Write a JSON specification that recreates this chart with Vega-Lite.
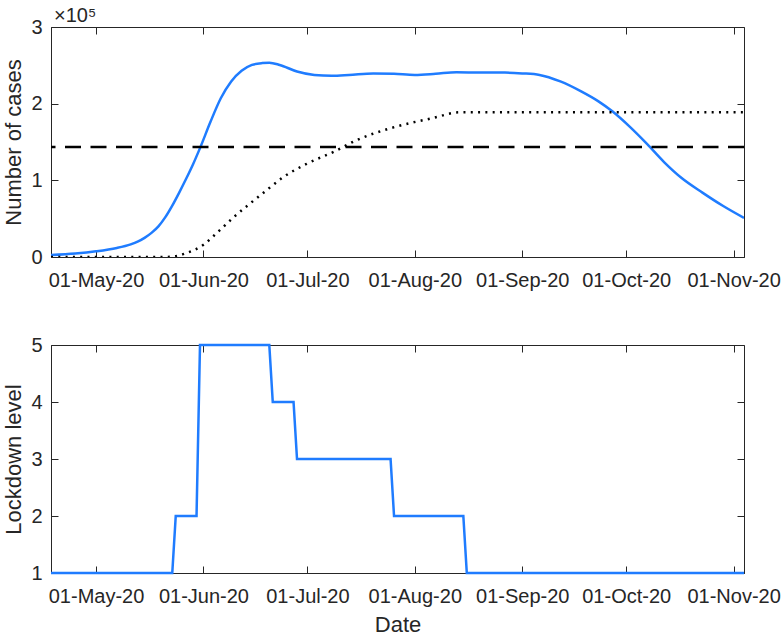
{
  "$schema": "https://vega.github.io/schema/vega-lite/v6.json",
  "background": "white",
  "padding": {"left": 2, "top": 5, "right": 2, "bottom": 0},
  "spacing": 43,
  "config": {
    "font": "Liberation Sans",
    "view": {"stroke": "#262626", "strokeWidth": 1},
    "axis": {
      "grid": false,
      "domainColor": "#262626",
      "tickColor": "#262626",
      "labelColor": "#262626",
      "titleColor": "#262626",
      "labelFont": "Liberation Sans",
      "titleFont": "Liberation Sans",
      "labelFontSize": 20,
      "titleFontSize": 22,
      "titleFontWeight": "normal",
      "tickSize": -7,
      "labelFlush": false,
      "labelOverlap": false
    }
  },
  "datasets": {
    "cases": [
      {"date": "2020-04-18", "value": 2500},
      {"date": "2020-04-25", "value": 4500},
      {"date": "2020-05-01", "value": 7400},
      {"date": "2020-05-07", "value": 11800},
      {"date": "2020-05-11", "value": 16500},
      {"date": "2020-05-13", "value": 20000},
      {"date": "2020-05-15", "value": 25000},
      {"date": "2020-05-17", "value": 31500},
      {"date": "2020-05-19", "value": 40000},
      {"date": "2020-05-21", "value": 52000},
      {"date": "2020-05-23", "value": 67000},
      {"date": "2020-05-25", "value": 84000},
      {"date": "2020-05-27", "value": 102000},
      {"date": "2020-05-29", "value": 121000},
      {"date": "2020-05-31", "value": 142000},
      {"date": "2020-06-03", "value": 176000},
      {"date": "2020-06-06", "value": 207000},
      {"date": "2020-06-09", "value": 229000},
      {"date": "2020-06-12", "value": 243000},
      {"date": "2020-06-15", "value": 250500},
      {"date": "2020-06-18", "value": 253000},
      {"date": "2020-06-20", "value": 253500},
      {"date": "2020-06-23", "value": 250500},
      {"date": "2020-06-28", "value": 242000},
      {"date": "2020-07-03", "value": 237500},
      {"date": "2020-07-08", "value": 236500},
      {"date": "2020-07-13", "value": 237500},
      {"date": "2020-07-20", "value": 239500},
      {"date": "2020-07-26", "value": 239000},
      {"date": "2020-08-01", "value": 237500},
      {"date": "2020-08-07", "value": 239000},
      {"date": "2020-08-13", "value": 241000},
      {"date": "2020-08-20", "value": 240500},
      {"date": "2020-08-27", "value": 240500},
      {"date": "2020-09-01", "value": 239500},
      {"date": "2020-09-06", "value": 237500},
      {"date": "2020-09-12", "value": 229000},
      {"date": "2020-09-18", "value": 216000},
      {"date": "2020-09-23", "value": 203000},
      {"date": "2020-09-27", "value": 190000},
      {"date": "2020-10-02", "value": 170000},
      {"date": "2020-10-07", "value": 147500},
      {"date": "2020-10-12", "value": 123500},
      {"date": "2020-10-17", "value": 103000},
      {"date": "2020-10-23", "value": 84000},
      {"date": "2020-10-29", "value": 66500},
      {"date": "2020-11-04", "value": 51000}
    ],
    "dotted": [
      {"date": "2020-04-18", "value": 0},
      {"date": "2020-05-21", "value": 0},
      {"date": "2020-05-24", "value": 1000},
      {"date": "2020-05-27", "value": 5000},
      {"date": "2020-06-01", "value": 16000},
      {"date": "2020-06-05", "value": 32000},
      {"date": "2020-06-10", "value": 53000},
      {"date": "2020-06-17", "value": 79000},
      {"date": "2020-06-20", "value": 90000},
      {"date": "2020-06-24", "value": 104000},
      {"date": "2020-07-01", "value": 122000},
      {"date": "2020-07-09", "value": 138000},
      {"date": "2020-07-15", "value": 152000},
      {"date": "2020-07-25", "value": 168000},
      {"date": "2020-08-06", "value": 181000},
      {"date": "2020-08-14", "value": 188700},
      {"date": "2020-11-04", "value": 188700}
    ],
    "threshold": [
      {"value": 143500}
    ],
    "lockdown": [
      {"date": "2020-04-18", "level": 1},
      {"date": "2020-05-23", "level": 1},
      {"date": "2020-05-24", "level": 2},
      {"date": "2020-05-30", "level": 2},
      {"date": "2020-05-31", "level": 5},
      {"date": "2020-06-20", "level": 5},
      {"date": "2020-06-21", "level": 4},
      {"date": "2020-06-27", "level": 4},
      {"date": "2020-06-28", "level": 3},
      {"date": "2020-07-25", "level": 3},
      {"date": "2020-07-26", "level": 2},
      {"date": "2020-08-15", "level": 2},
      {"date": "2020-08-16", "level": 1},
      {"date": "2020-11-04", "level": 1}
    ]
  },
  "vconcat": [
    {
      "width": 693,
      "height": 230,
      "title": {"text": "×10⁵", "anchor": "start", "frame": "group", "fontSize": 20, "fontWeight": "normal", "color": "#262626", "font": "Liberation Sans", "offset": -9, "dx": 3},
      "resolve": {"axis": {"x": "independent", "y": "independent"}},
      "layer": [
        {
          "data": {"name": "cases"},
          "mark": {"type": "line", "color": "#1f7cff", "strokeWidth": 2.5, "interpolate": "monotone", "clip": true},
          "encoding": {
            "x": {"field": "date", "type": "temporal",
              "scale": {"type": "utc", "domain": [{"year": 2020, "month": 4, "date": 18, "utc": true}, {"year": 2020, "month": 11, "date": 4, "utc": true}]},
              "axis": {"orient": "bottom", "title": null, "format": "%d-%b-%y", "labelPadding": 20,
                "values": [{"year": 2020, "month": 5, "date": 1, "utc": true}, {"year": 2020, "month": 6, "date": 1, "utc": true}, {"year": 2020, "month": 7, "date": 1, "utc": true}, {"year": 2020, "month": 8, "date": 1, "utc": true}, {"year": 2020, "month": 9, "date": 1, "utc": true}, {"year": 2020, "month": 10, "date": 1, "utc": true}, {"year": 2020, "month": 11, "date": 1, "utc": true}]}},
            "y": {"field": "value", "type": "quantitative",
              "scale": {"domain": [0, 300000], "nice": false, "zero": false},
              "axis": {"orient": "left", "title": "Number of cases", "values": [0, 100000, 200000, 300000], "labelExpr": "datum.value / 100000", "labelPadding": 16, "titlePadding": 5}}
          }
        },
        {
          "data": {"name": "dotted"},
          "mark": {"type": "line", "color": "black", "strokeWidth": 2.5, "strokeDash": [2, 5.3], "interpolate": "monotone", "clip": true},
          "encoding": {
            "x": {"field": "date", "type": "temporal",
              "scale": {"type": "utc", "domain": [{"year": 2020, "month": 4, "date": 18, "utc": true}, {"year": 2020, "month": 11, "date": 4, "utc": true}]},
              "axis": {"orient": "top", "title": null, "labels": false, "domain": false,
                "values": [{"year": 2020, "month": 5, "date": 1, "utc": true}, {"year": 2020, "month": 6, "date": 1, "utc": true}, {"year": 2020, "month": 7, "date": 1, "utc": true}, {"year": 2020, "month": 8, "date": 1, "utc": true}, {"year": 2020, "month": 9, "date": 1, "utc": true}, {"year": 2020, "month": 10, "date": 1, "utc": true}, {"year": 2020, "month": 11, "date": 1, "utc": true}]}},
            "y": {"field": "value", "type": "quantitative",
              "scale": {"domain": [0, 300000], "nice": false, "zero": false},
              "axis": {"orient": "right", "title": null, "labels": false, "domain": false, "values": [0, 100000, 200000, 300000]}}
          }
        },
        {
          "data": {"name": "threshold"},
          "mark": {"type": "rule", "color": "black", "strokeWidth": 2.5, "strokeDash": [16, 9.5]},
          "encoding": {
            "y": {"field": "value", "type": "quantitative", "axis": null}
          }
        }
      ]
    },
    {
      "width": 693,
      "height": 228,
      "resolve": {"axis": {"x": "independent", "y": "independent"}},
      "layer": [
        {
          "data": {"name": "lockdown"},
          "mark": {"type": "line", "color": "#1f7cff", "strokeWidth": 2.5},
          "encoding": {
            "x": {"field": "date", "type": "temporal",
              "scale": {"type": "utc", "domain": [{"year": 2020, "month": 4, "date": 18, "utc": true}, {"year": 2020, "month": 11, "date": 4, "utc": true}]},
              "axis": {"orient": "bottom", "title": "Date", "format": "%d-%b-%y", "labelPadding": 20, "titlePadding": 8,
                "values": [{"year": 2020, "month": 5, "date": 1, "utc": true}, {"year": 2020, "month": 6, "date": 1, "utc": true}, {"year": 2020, "month": 7, "date": 1, "utc": true}, {"year": 2020, "month": 8, "date": 1, "utc": true}, {"year": 2020, "month": 9, "date": 1, "utc": true}, {"year": 2020, "month": 10, "date": 1, "utc": true}, {"year": 2020, "month": 11, "date": 1, "utc": true}]}},
            "y": {"field": "level", "type": "quantitative",
              "scale": {"domain": [1, 5], "nice": false, "zero": false},
              "axis": {"orient": "left", "title": "Lockdown level", "values": [1, 2, 3, 4, 5], "format": "d", "labelPadding": 16, "titlePadding": 5}}
          }
        },
        {
          "data": {"name": "lockdown"},
          "mark": {"type": "line", "opacity": 0},
          "encoding": {
            "x": {"field": "date", "type": "temporal",
              "scale": {"type": "utc", "domain": [{"year": 2020, "month": 4, "date": 18, "utc": true}, {"year": 2020, "month": 11, "date": 4, "utc": true}]},
              "axis": {"orient": "top", "title": null, "labels": false, "domain": false,
                "values": [{"year": 2020, "month": 5, "date": 1, "utc": true}, {"year": 2020, "month": 6, "date": 1, "utc": true}, {"year": 2020, "month": 7, "date": 1, "utc": true}, {"year": 2020, "month": 8, "date": 1, "utc": true}, {"year": 2020, "month": 9, "date": 1, "utc": true}, {"year": 2020, "month": 10, "date": 1, "utc": true}, {"year": 2020, "month": 11, "date": 1, "utc": true}]}},
            "y": {"field": "level", "type": "quantitative",
              "scale": {"domain": [1, 5], "nice": false, "zero": false},
              "axis": {"orient": "right", "title": null, "labels": false, "domain": false, "values": [1, 2, 3, 4, 5]}}
          }
        }
      ]
    }
  ]
}
